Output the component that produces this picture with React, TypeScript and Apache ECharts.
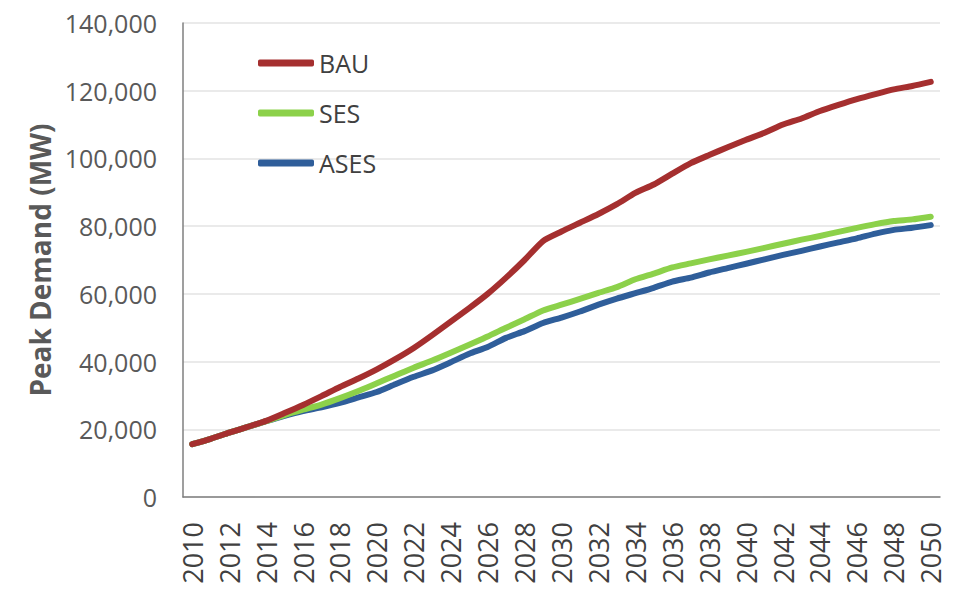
import React, { useEffect, useRef } from "react";
import * as echarts from "echarts";

const years: string[] = [];
for (let y = 2010; y <= 2050; y++) years.push(String(y));

const bau = [
  15.6, 17.2, 19.0, 20.7, 22.5, 24.8, 27.2, 29.8, 32.5, 35.0,
  37.7, 40.7, 44.0, 47.8, 51.8, 55.8, 60.0, 64.8, 70.0, 75.6,
  78.4, 81.0, 83.6, 86.5, 89.8, 92.3, 95.5, 98.6, 101.0, 103.3,
  105.5, 107.6, 110.0, 111.8, 114.0, 115.8, 117.5, 119.0, 120.4, 121.4,
  122.6,
].map((v) => v * 1000);

const ses = [
  15.6, 17.2, 19.0, 20.7, 22.4, 24.2, 25.8, 27.3, 29.2, 31.3,
  33.6, 35.9, 38.2, 40.3, 42.6, 45.0, 47.4, 50.0, 52.5, 55.1,
  56.8, 58.5, 60.3, 62.0, 64.3, 66.0, 67.8, 69.0, 70.2, 71.3,
  72.4, 73.6, 74.8, 76.0, 77.1, 78.3, 79.5, 80.6, 81.5, 82.0,
  82.8,
].map((v) => v * 1000);

const ases = [
  15.6, 17.2, 19.0, 20.7, 22.4, 24.0, 25.4, 26.5, 27.8, 29.4,
  31.0, 33.3, 35.5, 37.4, 39.8, 42.3, 44.3, 47.0, 49.0, 51.4,
  53.0, 54.8, 56.8, 58.6, 60.2, 61.8, 63.6, 64.8, 66.3, 67.6,
  68.9, 70.2, 71.5, 72.7, 74.0, 75.2, 76.4, 77.8, 78.9, 79.5,
  80.3,
].map((v) => v * 1000);

const seriesNames = ["BAU", "SES", "ASES"];
const seriesColors = ["#A52F2F", "#8CD14A", "#2F5E9A"];

export default function App() {
  const ref = useRef<HTMLDivElement>(null);
  useEffect(() => {
    if (!ref.current) return;
    const chart = echarts.init(ref.current, undefined, { renderer: "svg" });
    const data = [bau, ses, ases];
    chart.setOption({
      animation: false,
      backgroundColor: "#ffffff",
      grid: { left: 183, right: 23, top: 23, bottom: 112, containLabel: false },
      legend: {
        orient: "vertical",
        left: 253,
        top: 43,
        itemWidth: 56,
        itemHeight: 7,
        itemGap: 20,
        icon: "roundRect",
        data: seriesNames,
        textStyle: {
          fontFamily: "'Open Sans', sans-serif",
          fontSize: 25,
          lineHeight: 30,
          color: "#404040",
        },
      },
      xAxis: {
        type: "category",
        data: years,
        boundaryGap: true,
        axisLine: { lineStyle: { color: "#7f7f7f", width: 1.5 } },
        axisTick: { show: false },
        axisLabel: {
          interval: 1,
          rotate: 90,
          margin: 25,
          fontFamily: "'Open Sans', sans-serif",
          fontSize: 27,
          color: "#404040",
        },
      },
      yAxis: {
        type: "value",
        min: 0,
        max: 140000,
        interval: 20000,
        name: "Peak Demand (MW)",
        nameLocation: "middle",
        nameGap: 114,
        nameTextStyle: {
          fontFamily: "'Open Sans', sans-serif",
          fontWeight: "bold",
          fontSize: 28,
          color: "#595959",
        },
        axisLine: { show: true, lineStyle: { color: "#7f7f7f", width: 1.5 } },
        axisTick: { show: false },
        splitLine: { lineStyle: { color: "#e3e3e3", width: 1.5 } },
        axisLabel: {
          margin: 26,
          fontFamily: "'Open Sans', sans-serif",
          fontSize: 25,
          color: "#595959",
          formatter: (v: number) => v.toLocaleString("en-US"),
        },
      },
      series: seriesNames.map((name, i) => ({
        name,
        type: "line",
        data: data[i],
        showSymbol: false,
        symbol: "none",
        smooth: 0.2,
        z: 10 - i,
        lineStyle: { color: seriesColors[i], width: 6, cap: "round", join: "round" },
        itemStyle: { color: seriesColors[i] },
      })),
    });
    return () => chart.dispose();
  }, []);
  return (
    <div
      ref={ref}
      style={{ position: "fixed", left: 0, top: 0, width: 963, height: 609 }}
    />
  );
}
